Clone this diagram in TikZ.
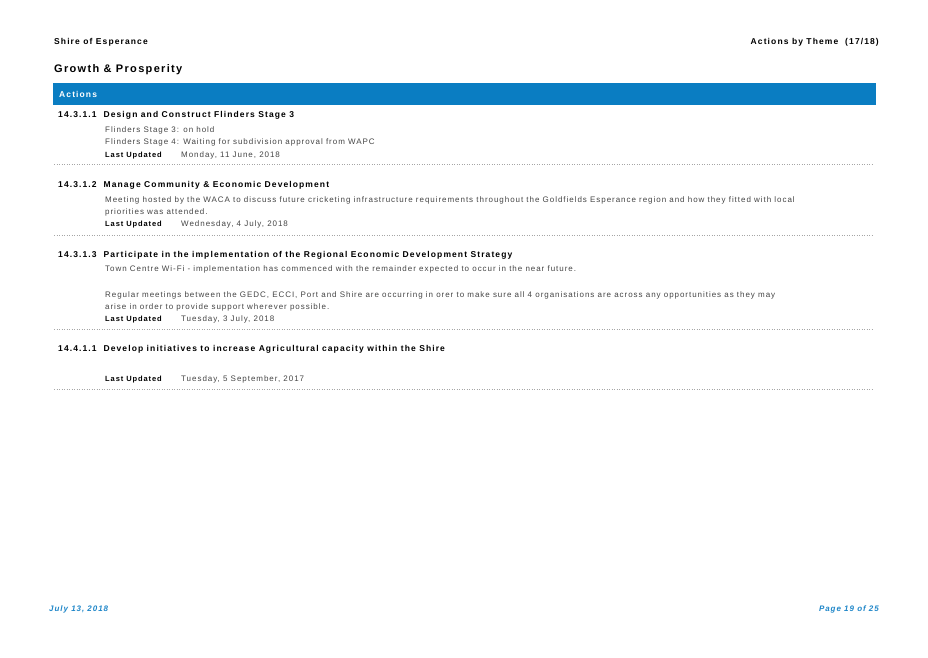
\documentclass[tikz,border=0pt]{standalone}
\usepackage{fontspec}
\setmainfont{Liberation Sans}
\newfontfamily\spaced[LetterSpace=12]{Liberation Sans}
\newfontfamily\spacedh[LetterSpace=13]{Liberation Sans}
\definecolor{bar}{HTML}{0A7DC2}
\definecolor{foot}{HTML}{1F86C8}
\definecolor{body}{HTML}{444444}
\begin{document}
\begin{tikzpicture}[x=1pt,y=-1pt,
  hd/.style={anchor=west,inner sep=0,font=\spacedh\fontsize{8.5}{10}\selectfont\bfseries},
  tx/.style={anchor=west,inner sep=0,text=body,font=\spaced\fontsize{8}{10}\selectfont},
  lu/.style={anchor=west,inner sep=0,font=\spaced\fontsize{7.5}{9}\selectfont\bfseries},
  sep/.style={draw=gray!70,dotted,line width=0.5pt}]
\useasboundingbox (0,0) rectangle (928,657);
\node[hd] (h1) at (54,42) {Shire of Esperance};
\node[hd,anchor=east] (h2) at (879,42) {Actions by Theme\ \ (17/18)};
\node[anchor=west,inner sep=0,font=\spaced\fontsize{11}{13}\selectfont\bfseries] (t) at (54,70) {Growth \& Prosperity};
\fill[bar] (53,83) rectangle (876,105);
\node[hd,text=white] (a) at (59,94) {Actions};
% item 1
\node[hd] (i1) at (58,115) {14.3.1.1\ \ Design and Construct Flinders Stage 3};
\node[tx] at (105,130) {Flinders Stage 3: on hold};
\node[tx] at (105,142) {Flinders Stage 4: Waiting for subdivision approval from WAPC};
\node[lu] at (105,156) {Last Updated};
\node[tx] at (181,155) {Monday, 11 June, 2018};
\draw[sep] (54,164) -- (872,164);
% item 2
\node[hd] (i2) at (58,185) {14.3.1.2\ \ Manage Community \& Economic Development};
\node[tx] at (105,200) {Meeting hosted by the WACA to discuss future cricketing infrastructure requirements throughout the Goldfields Esperance region and how they fitted with local};
\node[tx] at (105,212) {priorities was attended.};
\node[lu] at (105,225) {Last Updated};
\node[tx] at (181,224) {Wednesday, 4 July, 2018};
\draw[sep] (54,235) -- (872,235);
% item 3
\node[hd] (i3) at (58,255) {14.3.1.3\ \ Participate in the implementation of the Regional Economic Development Strategy};
\node[tx] at (105,269) {Town Centre Wi-Fi - implementation has commenced with the remainder expected to occur in the near future.};
\node[tx] at (105,295) {Regular meetings between the GEDC, ECCI, Port and Shire are occurring in orer to make sure all 4 organisations are across any opportunities as they may};
\node[tx] at (105,307) {arise in order to provide support wherever possible.};
\node[lu] at (105,320) {Last Updated};
\node[tx] at (181,319) {Tuesday, 3 July, 2018};
\draw[sep] (54,329) -- (872,329);
% item 4
\node[hd] (i4) at (58,349) {14.4.1.1\ \ Develop initiatives to increase Agricultural capacity within the Shire};
\node[lu] at (105,380) {Last Updated};
\node[tx] at (181,379) {Tuesday, 5 September, 2017};
\draw[sep] (54,389) -- (872,389);
% footer
\node[anchor=west,inner sep=0,text=foot,font=\spaced\fontsize{8}{10}\selectfont\bfseries\itshape] (f1) at (49,609) {July 13, 2018};
\node[anchor=east,inner sep=0,text=foot,font=\spaced\fontsize{8}{10}\selectfont\bfseries\itshape] (f2) at (879,609) {Page 19 of 25};
\end{tikzpicture}
\end{document}
